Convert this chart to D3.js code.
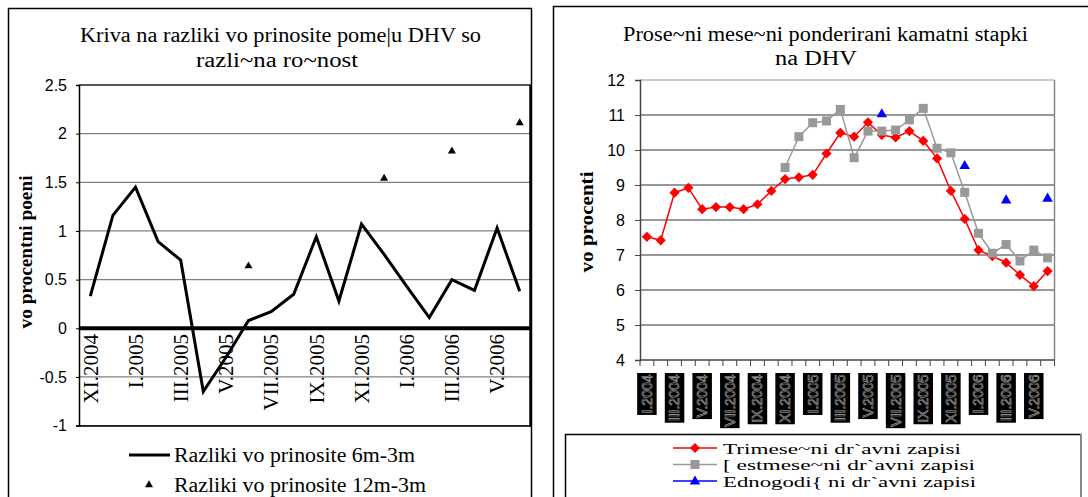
<!DOCTYPE html>
<html>
<head>
<meta charset="utf-8">
<script src="https://cdn.jsdelivr.net/npm/d3@7"></script>
<style>
  body { margin: 0; background: #fff; }
  svg { display: block; }
</style>
</head>
<body>
<div id="chart"></div>
<script>
// left chart: yield spreads
var leftMonths = ["XI.2004","XII.2004","I.2005","II.2005","III.2005","IV.2005","V.2005","VI.2005",
  "VII.2005","VIII.2005","IX.2005","X.2005","XI.2005","XII.2005","I.2006","II.2006","III.2006",
  "IV.2006","V.2006","VI.2006"]
var spread6m = [0.33, 1.16, 1.45, 0.89, 0.70, -0.65, -0.30, 0.08, 0.17, 0.35, 0.94, 0.28,
  1.07, 0.76, 0.43, 0.11, 0.50, 0.39, 1.03, 0.38]
var spread12m = [null, null, null, null, null, null, null, 0.65, null, null, null, null,
  null, 1.55, null, null, 1.83, null, null, 2.12]
var leftTicks = [-1, -0.5, 0, 0.5, 1, 1.5, 2, 2.5]

// right chart: weighted interest rates
var rightMonths = ["I.2004","II.2004","III.2004","IV.2004","V.2004","VI.2004","VII.2004","VIII.2004",
  "IX.2004","X.2004","XI.2004","XII.2004","I.2005","II.2005","III.2005","IV.2005","V.2005","VI.2005",
  "VII.2005","VIII.2005","IX.2005","X.2005","XI.2005","XII.2005","I.2006","II.2006","III.2006",
  "IV.2006","V.2006","VI.2006"]
var bills3m = [7.52, 7.42, 8.78, 8.92, 8.31, 8.37, 8.37, 8.31, 8.45, 8.83, 9.17, 9.22, 9.29, 9.90,
  10.49, 10.38, 10.79, 10.43, 10.36, 10.54, 10.26, 9.76, 8.83, 8.03, 7.14, 6.97, 6.78, 6.43, 6.11, 6.54]
var bills6m = [null, null, null, null, null, null, null, null, null, null, 9.50, 10.38, 10.78, 10.83,
  11.16, 9.78, 10.54, 10.54, 10.57, 10.86, 11.19, 10.05, 9.92, 8.79, 7.62, 7.05, 7.30, 6.83, 7.14, 6.92]
var bills12m = [null, null, null, null, null, null, null, null, null, null, null, null, null, null,
  null, null, null, 11.05, null, null, null, null, null, 9.57, null, null, 8.59, null, null, 8.64]
var rightTicks = [4, 5, 6, 7, 8, 9, 10, 11, 12]

var serif = "'Liberation Serif', 'Times New Roman', serif"
var sans = "'Liberation Sans', Arial, sans-serif"

var svg = d3.select("#chart").append("svg")
  .attr("width", 1088)
  .attr("height", 497)
svg.append("rect").attr("width", 1088).attr("height", 497).attr("fill", "#fff")

function addText(g, x, y, str, size, w, weight) {
  var t = g.append("text")
    .attr("x", x).attr("y", y)
    .attr("font-family", serif)
    .attr("font-size", size)
    .attr("font-weight", weight || "normal")
    .attr("fill", "#000")
    .text(str)
  if (w) t.attr("textLength", w).attr("lengthAdjust", "spacingAndGlyphs")
  return t
}

// ---------------- left chart ----------------
var L = svg.append("g")
L.append("rect").attr("x", 8.5).attr("y", 8.5).attr("width", 523).attr("height", 510)
  .attr("fill", "none").attr("stroke", "#000").attr("stroke-width", 1.5)

addText(L, 80, 42, "Kriva na razliki vo prinosite pome|u DHV so", 20, 401)
addText(L, 196, 67, "razli~na ro~nost", 20, 162)

var xL = d3.scaleBand().domain(leftMonths).range([79, 531])
var yL = d3.scaleLinear().domain([-1, 2.5]).range([425.6, 85])
var cxL = function(m) { return xL(m) + xL.bandwidth() / 2 }

// gridlines
L.append("g").selectAll("line").data(leftTicks).enter().append("line")
  .attr("x1", 79).attr("x2", 531)
  .attr("y1", d => yL(d)).attr("y2", d => yL(d))
  .attr("stroke", "#808080").attr("stroke-width", 1.2)

// x labels (rotated, inside plot below zero)
L.append("g").selectAll("text").data(leftMonths.filter((d, i) => i % 2 == 0)).enter()
  .append("text")
  .attr("transform", d => "translate(" + cxL(d) + ",334) rotate(-90)")
  .attr("text-anchor", "end")
  .attr("dy", "0.35em")
  .attr("font-family", serif)
  .attr("font-size", 21)
  .text(d => d)

// plot border
L.append("line").attr("x1", 79).attr("x2", 531).attr("y1", 85).attr("y2", 85)
  .attr("stroke", "#333").attr("stroke-width", 1.5)
L.append("line").attr("x1", 79).attr("x2", 531).attr("y1", 426).attr("y2", 426)
  .attr("stroke", "#000").attr("stroke-width", 1.5)
L.append("line").attr("x1", 530.5).attr("x2", 530.5).attr("y1", 85).attr("y2", 427)
  .attr("stroke", "#000").attr("stroke-width", 2.5)

// zero line
L.append("line").attr("x1", 79).attr("x2", 531).attr("y1", yL(0)).attr("y2", yL(0))
  .attr("stroke", "#000").attr("stroke-width", 4)

var axL = L.append("g").attr("transform", "translate(79,0)")
  .call(d3.axisLeft(yL).tickValues(leftTicks).tickSize(3).tickPadding(9).tickFormat(d => String(d)))
axL.select(".domain").attr("stroke", "#000").attr("stroke-width", 1.5)
axL.selectAll(".tick line").attr("stroke", "#000")
axL.selectAll("text").attr("font-family", sans).attr("font-size", 16).attr("fill", "#000")

L.append("text")
  .attr("transform", "translate(32,252) rotate(-90)")
  .attr("text-anchor", "middle")
  .attr("font-family", serif).attr("font-size", 19).attr("font-weight", "bold")
  .attr("textLength", 153).attr("lengthAdjust", "spacingAndGlyphs")
  .text("vo procentni  poeni")

// 6m-3m line
var lineL = d3.line().x((d, i) => cxL(leftMonths[i])).y(d => yL(d))
L.append("path").datum(spread6m).attr("d", lineL)
  .attr("fill", "none").attr("stroke", "#000").attr("stroke-width", 3)
  .attr("stroke-linejoin", "miter")

// 12m-3m triangles
var tri = d3.symbol().type(d3.symbolTriangle)
L.append("g").selectAll("path")
  .data(spread12m.map((v, i) => ({ m: leftMonths[i], v: v })).filter(d => d.v != null))
  .enter().append("path")
  .attr("d", tri.size(28))
  .attr("transform", d => "translate(" + cxL(d.m) + "," + (yL(d.v) + 1) + ")")
  .attr("fill", "#000")

// legend
L.append("line").attr("x1", 129).attr("x2", 170).attr("y1", 455).attr("y2", 455)
  .attr("stroke", "#000").attr("stroke-width", 3)
addText(L, 174, 462, "Razliki vo prinosite 6m-3m", 20, 241)
L.append("path").attr("d", tri.size(28)).attr("transform", "translate(149,485)").attr("fill", "#000")
addText(L, 174, 492, "Razliki vo prinosite 12m-3m", 20, 252)

// ---------------- right chart ----------------
var R = svg.append("g")
R.append("rect").attr("x", 553.5).attr("y", 6.5).attr("width", 600).attr("height", 520)
  .attr("fill", "none").attr("stroke", "#000").attr("stroke-width", 1.5)

addText(R, 623, 41, "Prose~ni mese~ni ponderirani kamatni stapki", 20, 405)
addText(R, 775, 65, "na DHV", 20, 82)

var xR = d3.scaleBand().domain(rightMonths).range([640, 1054.5])
var yR = d3.scaleLinear().domain([4, 12]).range([360, 80])
var cxR = function(m) { return xR(m) + xR.bandwidth() / 2 }

R.append("g").selectAll("line").data(rightTicks.filter(d => d > 4)).enter().append("line")
  .attr("x1", 640).attr("x2", 1054.5)
  .attr("y1", d => yR(d)).attr("y2", d => yR(d))
  .attr("stroke", d => d == 12 ? "#999" : "#333").attr("stroke-width", 1.2)
R.append("line").attr("x1", 1054.5).attr("x2", 1054.5).attr("y1", 80).attr("y2", 360)
  .attr("stroke", "#888").attr("stroke-width", 1.5)

var ayR = R.append("g").attr("transform", "translate(640,0)")
  .call(d3.axisLeft(yR).tickValues(rightTicks).tickSize(5).tickPadding(10).tickFormat(d => String(d)))
ayR.select(".domain").attr("stroke", "#444").attr("stroke-width", 1.5)
ayR.selectAll(".tick line").attr("stroke", "#444")
ayR.selectAll("text").attr("font-family", sans).attr("font-size", 16).attr("fill", "#000")

// bottom axis with ticks between categories
var axB = R.append("g")
axB.append("line").attr("x1", 640).attr("x2", 1055).attr("y1", 360).attr("y2", 360)
  .attr("stroke", "#444").attr("stroke-width", 1.5)
axB.selectAll(".tk").data(rightMonths.concat(["end"])).enter().append("line")
  .attr("class", "tk")
  .attr("x1", (d, i) => 640 + i * xR.bandwidth())
  .attr("x2", (d, i) => 640 + i * xR.bandwidth())
  .attr("y1", 360).attr("y2", 366)
  .attr("stroke", "#444").attr("stroke-width", 1)

// black label boxes
var lab = R.append("g").selectAll("g").data(rightMonths.filter((d, i) => i % 2 == 0)).enter().append("g")
lab.each(function(d) {
  var g = d3.select(this)
  var r = g.append("rect")
  var t = g.append("text")
    .attr("transform", "translate(" + cxR(d) + ",374.5) rotate(-90)")
    .attr("text-anchor", "end")
    .attr("dy", "0.35em")
    .attr("font-family", sans).attr("font-size", 14)
    .attr("fill", "#000").attr("stroke", "#aaa").attr("stroke-width", 0.6)
    .text(d)
  var len = t.node().getComputedTextLength()
  r.attr("x", cxR(d) - 9.75).attr("y", 373).attr("width", 19.5).attr("height", len + 3)
    .attr("fill", "#000")
})

R.append("text")
  .attr("transform", "translate(593,222) rotate(-90)")
  .attr("text-anchor", "middle")
  .attr("font-family", serif).attr("font-size", 19).attr("font-weight", "bold")
  .attr("textLength", 101).attr("lengthAdjust", "spacingAndGlyphs")
  .text("vo procenti")

function pts(arr) {
  return arr.map((v, i) => ({ m: rightMonths[i], v: v })).filter(d => d.v != null)
}
var lineR = d3.line().defined(d => d != null).x((d, i) => cxR(rightMonths[i])).y(d => yR(d))

// 3m (red diamonds)
R.append("path").datum(bills3m).attr("d", lineR)
  .attr("fill", "none").attr("stroke", "#ff0000").attr("stroke-width", 1.5)
R.append("g").selectAll("rect").data(pts(bills3m)).enter().append("rect")
  .attr("x", -3.6).attr("y", -3.6).attr("width", 7.2).attr("height", 7.2)
  .attr("transform", d => "translate(" + cxR(d.m) + "," + yR(d.v) + ") rotate(45)")
  .attr("fill", "#ff0000")

// 6m (grey squares)
R.append("path").datum(bills6m).attr("d", lineR)
  .attr("fill", "none").attr("stroke", "#999").attr("stroke-width", 1.5)
R.append("g").selectAll("rect").data(pts(bills6m)).enter().append("rect")
  .attr("x", d => cxR(d.m) - 4.5).attr("y", d => yR(d.v) - 4.5)
  .attr("width", 9).attr("height", 9)
  .attr("fill", "#999")

// 12m (blue triangles)
R.append("g").selectAll("path").data(pts(bills12m)).enter().append("path")
  .attr("d", tri.size(48))
  .attr("transform", d => "translate(" + cxR(d.m) + "," + (yR(d.v) + 1) + ")")
  .attr("fill", "#0000ff")

// legend
R.append("rect").attr("x", 565.5).attr("y", 434.5).attr("width", 515.5).attr("height", 80)
  .attr("fill", "#fff").attr("stroke", "#000").attr("stroke-width", 1.5)
R.append("line").attr("x1", 1081).attr("x2", 1081).attr("y1", 434).attr("y2", 497)
  .attr("stroke", "#888").attr("stroke-width", 2)

var legRows = [
  { name: "Trimese~ni dr`avni zapisi", color: "#ff0000", shape: "diamond", y: 448, w: 238 },
  { name: "[ estmese~ni dr`avni zapisi", color: "#999", shape: "square", y: 464.5, w: 252 },
  { name: "Ednogodi{ ni dr`avni zapisi", color: "#0000ff", shape: "triangle", y: 481, w: 253 }
]
legRows.forEach(function(r) {
  R.append("line").attr("x1", 673).attr("x2", 717).attr("y1", r.y).attr("y2", r.y)
    .attr("stroke", r.color).attr("stroke-width", 1.5)
  if (r.shape == "diamond") {
    R.append("rect").attr("x", -3.6).attr("y", -3.6).attr("width", 7.2).attr("height", 7.2)
      .attr("transform", "translate(695," + r.y + ") rotate(45)").attr("fill", r.color)
  } else if (r.shape == "square") {
    R.append("rect").attr("x", 690.5).attr("y", r.y - 4.5).attr("width", 9).attr("height", 9)
      .attr("fill", r.color)
  } else {
    R.append("path").attr("d", tri.size(48)).attr("transform", "translate(695," + (r.y + 0.5) + ")")
      .attr("fill", r.color)
  }
  addText(R, 723, r.y + 5.5, r.name, 15, r.w)
})
</script>
</body>
</html>
